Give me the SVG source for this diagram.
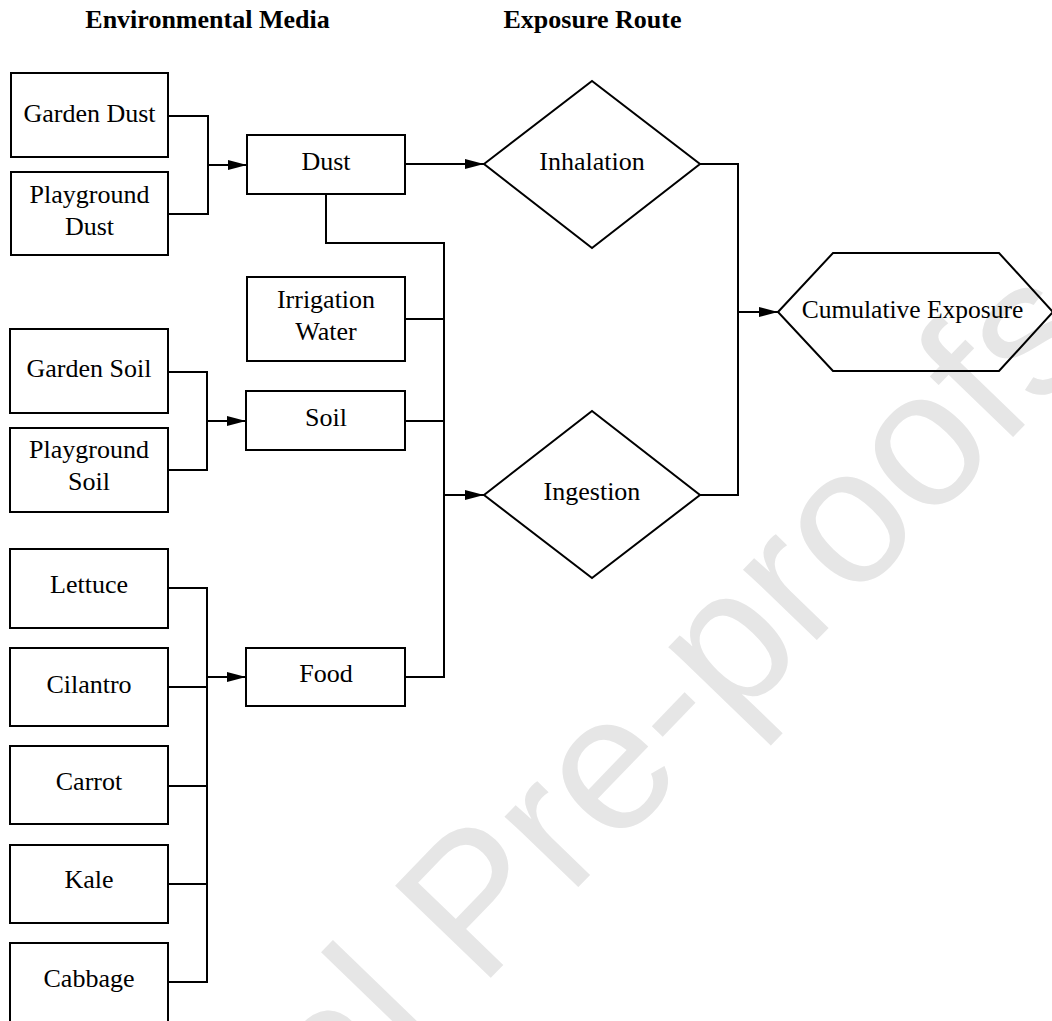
<svg xmlns="http://www.w3.org/2000/svg" width="1052" height="1021" viewBox="0 0 1052 1021">
<style>
.n{fill:none;stroke:#000;stroke-width:2}
.t{font-family:"Liberation Serif","Times New Roman",serif;font-size:26px;fill:#000;text-anchor:middle}
.h{font-family:"Liberation Serif","Times New Roman",serif;font-size:26px;font-weight:bold;fill:#000;text-anchor:middle}
.c{fill:none;stroke:#000;stroke-width:2}
.a{fill:none;stroke:#000;stroke-width:2;marker-end:url(#arr)}
.wm{font-family:"Liberation Sans",Arial,sans-serif;font-size:193px;fill:#e6e6e6}
</style>
<defs>
<marker id="arr" markerUnits="userSpaceOnUse" markerWidth="20" markerHeight="10" refX="19" refY="5" orient="auto">
<path d="M0,0 L19,5 L0,10 Z" fill="#000"/>
</marker>
</defs>
<rect width="1052" height="1021" fill="#fff"/>
<text class="wm" transform="translate(479.6,989.4) rotate(-46)" x="-686.5" y="0">Journal Pre-proofs</text>

<text class="h" x="207.5" y="28">Environmental Media</text>
<text class="h" x="592.5" y="28">Exposure Route</text>

<g id="connectors">
<path class="c" d="M168,116 H208 V214 H168"/>
<path class="a" d="M208,165 H247"/>
<path class="a" d="M405,164 H484"/>
<path class="c" d="M326,194 V243 H444 V677 H405"/>
<path class="c" d="M405,319 H444"/>
<path class="c" d="M405,421 H444"/>
<path class="a" d="M444,495 H484"/>
<path class="c" d="M700,164 H738 V495 H700"/>
<path class="a" d="M738,312 H778"/>
<path class="c" d="M168,372 H207 V470 H168"/>
<path class="a" d="M207,421 H246"/>
<path class="c" d="M168,588 H207 V982 H168"/>
<path class="c" d="M168,687 H207"/>
<path class="c" d="M168,786 H207"/>
<path class="c" d="M168,884 H207"/>
<path class="a" d="M207,677 H246"/>
</g>

<g id="garden-dust"><rect class="n" x="11" y="73" width="157" height="84"/><text class="t" x="89.5" y="122">Garden Dust</text></g>
<g id="playground-dust"><rect class="n" x="11" y="172" width="157" height="83"/><text class="t" x="89.5" y="203">Playground</text><text class="t" x="89.5" y="235">Dust</text></g>
<g id="dust"><rect class="n" x="247" y="135" width="158" height="59"/><text class="t" x="326" y="170">Dust</text></g>
<g id="irrigation-water"><rect class="n" x="247" y="277" width="158" height="84"/><text class="t" x="326" y="308">Irrigation</text><text class="t" x="326" y="340">Water</text></g>
<g id="garden-soil"><rect class="n" x="10" y="329" width="158" height="84"/><text class="t" x="89" y="377">Garden Soil</text></g>
<g id="playground-soil"><rect class="n" x="10" y="428" width="158" height="84"/><text class="t" x="89" y="458">Playground</text><text class="t" x="89" y="490">Soil</text></g>
<g id="soil"><rect class="n" x="246" y="391" width="159" height="59"/><text class="t" x="326" y="426">Soil</text></g>
<g id="lettuce"><rect class="n" x="10" y="549" width="158" height="79"/><text class="t" x="89" y="593">Lettuce</text></g>
<g id="cilantro"><rect class="n" x="10" y="648" width="158" height="78"/><text class="t" x="89" y="693">Cilantro</text></g>
<g id="carrot"><rect class="n" x="10" y="746" width="158" height="78"/><text class="t" x="89" y="790">Carrot</text></g>
<g id="kale"><rect class="n" x="10" y="845" width="158" height="78"/><text class="t" x="89" y="888">Kale</text></g>
<g id="cabbage"><rect class="n" x="10" y="943" width="158" height="82"/><text class="t" x="89" y="987">Cabbage</text></g>
<g id="food"><rect class="n" x="246" y="648" width="159" height="58"/><text class="t" x="326" y="682">Food</text></g>
<g id="inhalation"><polygon class="n" points="484,164 592,81 700,164 592,248"/><text class="t" x="592" y="170">Inhalation</text></g>
<g id="ingestion"><polygon class="n" points="484,495 592,411 700,495 592,578"/><text class="t" x="592" y="500">Ingestion</text></g>
<g id="cumulative-exposure"><polygon class="n" points="778,312 833,253 999,253 1053,312 999,371 833,371"/><text class="t" x="912.5" y="318" style="font-size:25.5px">Cumulative Exposure</text></g>
</svg>
